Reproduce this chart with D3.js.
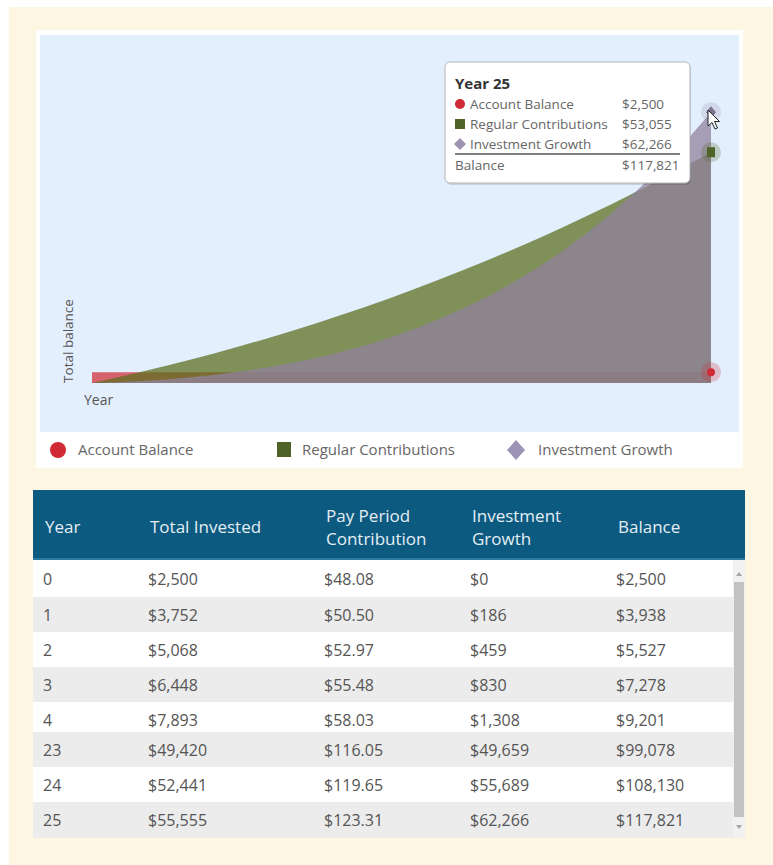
<!DOCTYPE html>
<meta charset="utf-8">
<style>
    body {
        margin: 0;
        background: #ffffff;
    }

    text {
        font-family: 'Open Sans', sans-serif;
    }

    .legendText {
        font-size: 15px;
        fill: #666;
    }

    .tipText {
        font-size: 13.5px;
        fill: #666;
    }

    .headText {
        font-size: 17px;
        fill: #e4eef4;
    }

    .cellText {
        font-size: 16px;
        fill: #555;
    }
</style>

<body>
    <script src="https://cdn.jsdelivr.net/npm/d3@7"></script>
    <script>
        // chart series, one value per year
        var years = [0, 1, 2, 3, 4, 5, 6, 7, 8, 9, 10, 11, 12, 13, 14, 15, 16, 17, 18, 19, 20, 21, 22, 23, 24, 25]
        var accountBalance = [2500, 2500, 2500, 2500, 2500, 2500, 2500, 2500, 2500, 2500, 2500, 2500, 2500,
            2500, 2500, 2500, 2500, 2500, 2500, 2500, 2500, 2500, 2500, 2500, 2500, 2500]
        var regularContributions = [0, 1252, 2568, 3948, 5393, 6905, 8484, 10132, 11850, 13640, 15503, 17440, 19452,
            21541, 23708, 25954, 28281, 30690, 33182, 35758, 38420, 41169, 44007, 46920, 49941, 53055]
        var investmentGrowth = [0, 186, 459, 830, 1308, 1904, 2629, 3494, 4512, 5696, 7060, 8620, 10392,
            12394, 14643, 17159, 19963, 23078, 26526, 30333, 34525, 39132, 44182, 49659, 55689, 62266]

        // table
        var tableHeaders = [["Year"], ["Total Invested"], ["Pay Period", "Contribution"], ["Investment", "Growth"], ["Balance"]]
        var tableYears = ["0", "1", "2", "3", "4", "23", "24", "25"]
        var totalInvested = ["$2,500", "$3,752", "$5,068", "$6,448", "$7,893", "$49,420", "$52,441", "$55,555"]
        var payPeriod = ["$48.08", "$50.50", "$52.97", "$55.48", "$58.03", "$116.05", "$119.65", "$123.31"]
        var growthCol = ["$0", "$186", "$459", "$830", "$1,308", "$49,659", "$55,689", "$62,266"]
        var balanceCol = ["$2,500", "$3,938", "$5,527", "$7,278", "$9,201", "$99,078", "$108,130", "$117,821"]

        var seriesNames = ["Account Balance", "Regular Contributions", "Investment Growth"]
        var seriesColors = ["#cf2a35", "#4f6228", "#9d93b4"]
        var fillColors = ["#d2333c", "#5e7022", "#90839e"]

        var width = 773,
            height = 865

        var svg = d3.select("body").append("svg")
            .attr("width", width)
            .attr("height", height)

        // page backdrop
        svg.append("rect").attr("x", 9).attr("y", 7).attr("width", width - 9).attr("height", height - 7)
            .attr("fill", "#fdf6e2")

        // chart card
        svg.append("rect").attr("x", 36).attr("y", 30).attr("width", 707).attr("height", 438).attr("fill", "#fff")
        svg.append("rect").attr("x", 40).attr("y", 35).attr("width", 699).attr("height", 397).attr("fill", "#e3effd")

        var x = d3.scaleLinear().domain([0, 25]).range([92, 711])
        var y = d3.scaleLinear().domain([0, 80000]).range([383, 35])

        var allSeries = [accountBalance, regularContributions, investmentGrowth]

        var area = d3.area()
            .x(function(d, i) { return x(years[i]) })
            .y0(y(0))
            .y1(function(d) { return y(d) })

        svg.selectAll(".area")
            .data(allSeries)
            .enter().append("path")
            .attr("class", "area")
            .attr("d", area)
            .attr("fill", function(d, i) { return fillColors[i] })
            .attr("fill-opacity", 0.75)

        // axis titles
        svg.append("text")
            .attr("transform", "translate(73," + 341 + ") rotate(-90)")
            .attr("text-anchor", "middle")
            .style("font-size", "13.5px")
            .style("fill", "#555")
            .text("Total balance")
        svg.append("text")
            .attr("x", 84).attr("y", 405)
            .style("font-size", "14px")
            .style("fill", "#555")
            .text("Year")

        // hover markers at the last year
        var last = years.length - 1
        var markerG = svg.append("g")
        allSeries.forEach(function(s, i) {
            markerG.append("circle")
                .attr("cx", x(years[last])).attr("cy", y(s[last]))
                .attr("r", 10)
                .attr("fill", seriesColors[i])
                .attr("fill-opacity", 0.25)
        })
        markerG.append("circle")
            .attr("cx", x(years[last])).attr("cy", y(accountBalance[last]))
            .attr("r", 4).attr("fill", seriesColors[0])
        markerG.append("rect")
            .attr("x", x(years[last]) - 4).attr("y", y(regularContributions[last]) - 5)
            .attr("width", 8).attr("height", 10).attr("fill", seriesColors[1])
        markerG.append("path")
            .attr("transform", "translate(" + x(years[last]) + "," + y(investmentGrowth[last]) + ")")
            .attr("d", "M0,-6L5,0L0,6L-5,0Z")
            .attr("fill", "#7d7191")

        // tooltip
        var tip = svg.append("g").attr("transform", "translate(445,62)")
        tip.append("rect")
            .attr("x", 1).attr("y", 2).attr("width", 245).attr("height", 121).attr("rx", 5)
            .attr("fill", "#000").attr("fill-opacity", 0.12)
        tip.append("rect")
            .attr("width", 245).attr("height", 121).attr("rx", 5)
            .attr("fill", "#fff").attr("stroke", "#b5b5b5")
        tip.append("text")
            .attr("x", 10).attr("y", 27)
            .style("font-size", "15px").style("font-weight", "bold").style("fill", "#333")
            .text("Year " + years[last])

        var tipValues = [accountBalance[last], regularContributions[last], investmentGrowth[last]]
        var fmt = d3.format("$,")
        tipValues.forEach(function(v, i) {
            var cy = 42 + i * 20
            if (i == 0) {
                tip.append("circle").attr("cx", 15).attr("cy", cy).attr("r", 5).attr("fill", seriesColors[0])
            } else if (i == 1) {
                tip.append("rect").attr("x", 10).attr("y", cy - 5).attr("width", 10).attr("height", 10).attr("fill", seriesColors[1])
            } else {
                tip.append("path").attr("transform", "translate(15," + cy + ")")
                    .attr("d", "M0,-6L6,0L0,6L-6,0Z").attr("fill", seriesColors[2])
            }
            tip.append("text").attr("class", "tipText").attr("x", 25).attr("y", cy + 5).text(seriesNames[i])
            tip.append("text").attr("class", "tipText").attr("x", 177).attr("y", cy + 5).text(fmt(v))
        })
        tip.append("line")
            .attr("x1", 10).attr("x2", 235).attr("y1", 92).attr("y2", 92)
            .attr("stroke", "#555").attr("stroke-width", 1.5)
        tip.append("text").attr("class", "tipText").attr("x", 10).attr("y", 108).text("Balance")
        tip.append("text").attr("class", "tipText").attr("x", 177).attr("y", 108)
            .text(fmt(d3.sum(tipValues)))

        // mouse pointer
        svg.append("path")
            .attr("transform", "translate(708,110)")
            .attr("d", "M0,0L0,16L4,12.5L7,19L9.5,18L6.5,11.5L11.5,11.5Z")
            .attr("fill", "#fff").attr("stroke", "#222").attr("stroke-width", 1)

        // legend
        var legend = svg.append("g").attr("transform", "translate(0,450)")
        var legendX = [58, 284, 516]
        legend.append("circle").attr("cx", legendX[0]).attr("cy", 0).attr("r", 8).attr("fill", seriesColors[0])
        legend.append("rect").attr("x", legendX[1] - 7).attr("y", -8).attr("width", 14).attr("height", 15).attr("fill", seriesColors[1])
        legend.append("path").attr("transform", "translate(" + legendX[2] + ",0)")
            .attr("d", "M0,-10L9,0L0,10L-9,0Z").attr("fill", seriesColors[2])
        legend.selectAll(".legendText")
            .data(seriesNames)
            .enter().append("text")
            .attr("class", "legendText")
            .attr("x", function(d, i) { return legendX[i] + [20, 18, 22][i] })
            .attr("y", 5)
            .text(function(d) { return d })

        // table
        var colX = [43, 148, 324, 470, 616]
        var tableLeft = 33,
            tableRight = 745,
            headTop = 490,
            headBottom = 560
        svg.append("rect")
            .attr("x", tableLeft).attr("y", headTop)
            .attr("width", tableRight - tableLeft).attr("height", headBottom - headTop)
            .attr("fill", "#0c5a80")
        svg.append("rect")
            .attr("x", tableLeft).attr("y", headBottom - 2)
            .attr("width", tableRight - tableLeft).attr("height", 2)
            .attr("fill", "#2f7aa0")

        tableHeaders.forEach(function(lines, i) {
            lines.forEach(function(l, j) {
                var yy = lines.length == 1 ? 533 : 522 + j * 23
                svg.append("text").attr("class", "headText")
                    .attr("x", colX[i] + 2).attr("y", yy).text(l)
            })
        })

        var rowTops = [560, 597, 632, 667, 702, 732, 767, 802, 838]
        var columns = [tableYears, totalInvested, payPeriod, growthCol, balanceCol]
        tableYears.forEach(function(yr, r) {
            svg.append("rect")
                .attr("x", tableLeft).attr("y", rowTops[r])
                .attr("width", 700).attr("height", rowTops[r + 1] - rowTops[r])
                .attr("fill", r % 2 == 0 ? "#ffffff" : "#ececec")
            var textY = r == 4 ? 726 : (rowTops[r] + rowTops[r + 1]) / 2 + 6
            columns.forEach(function(col, c) {
                svg.append("text").attr("class", "cellText")
                    .attr("x", colX[c]).attr("y", textY)
                    .text(col[r])
            })
        })

        // scrollbar
        svg.append("rect").attr("x", 733).attr("y", 560).attr("width", 12).attr("height", 278).attr("fill", "#f1f1f1")
        svg.append("rect").attr("x", 734).attr("y", 582).attr("width", 10).attr("height", 235).attr("fill", "#c2c2c2")
        svg.append("path").attr("d", "M736,576L739,572L742,576Z").attr("fill", "#a3a3a3")
        svg.append("path").attr("d", "M736,825L739,829L742,825Z").attr("fill", "#a3a3a3")
    </script>
</body>
